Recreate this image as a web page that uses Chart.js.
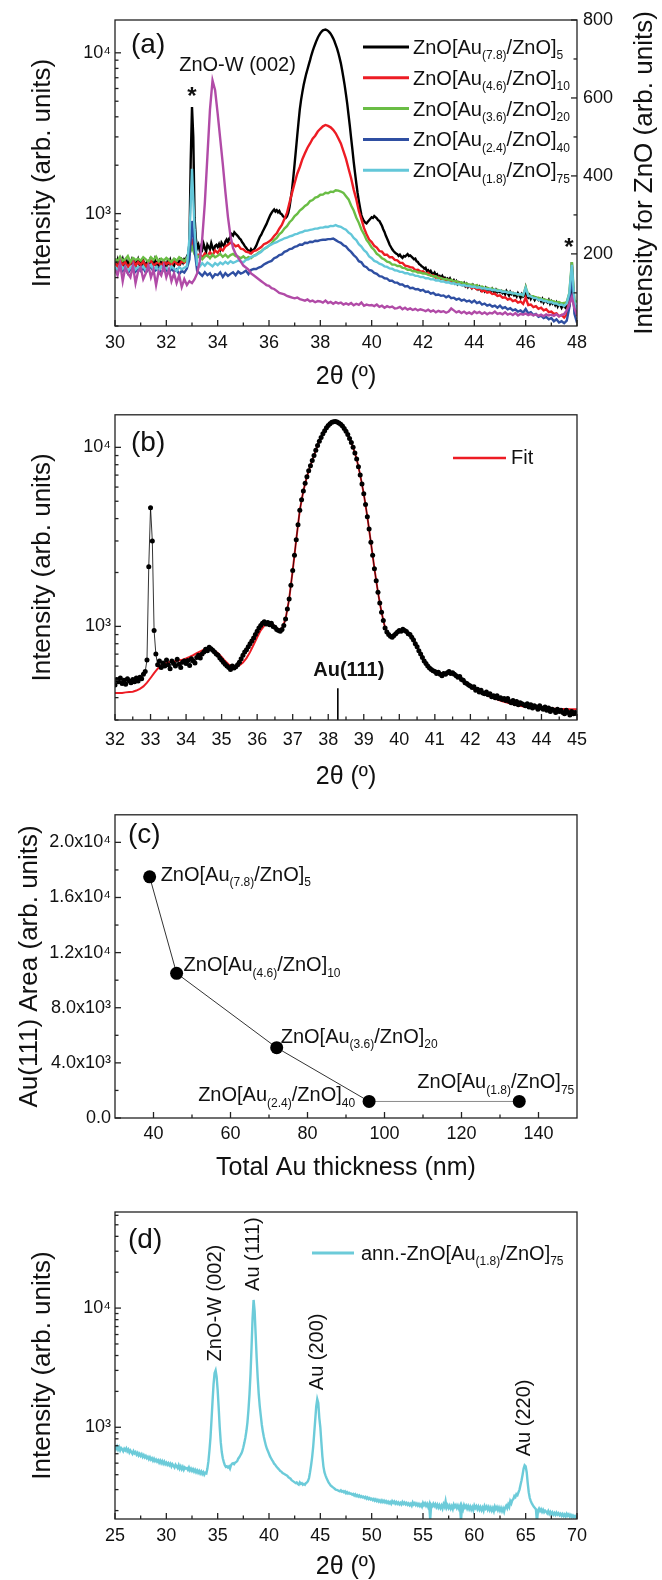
<!DOCTYPE html>
<html>
<head>
<meta charset="utf-8">
<script src="https://cdn.jsdelivr.net/npm/chart.js@4.4.1/dist/chart.umd.min.js"></script>
<style>
html, body { margin: 0; padding: 0; background: #fff; }
#wrap { position: relative; width: 662px; height: 1580px; overflow: hidden; background: #fff; }
#wrap canvas { position: absolute; left: 0; }
</style>
</head>
<body>
<div id="wrap">
  <canvas id="chartA" width="662" height="400" style="top:0px"></canvas>
  <canvas id="chartB" width="662" height="400" style="top:400px"></canvas>
  <canvas id="chartC" width="662" height="400" style="top:800px"></canvas>
  <canvas id="chartD" width="662" height="400" style="top:1180px"></canvas>
</div>
<script>
// ---- data ----

// (a) 2theta scans, 30-48 deg. ZnO[Au(7.8)/ZnO]5 is sampled every 0.05 deg, the others every 0.1 deg
const scanStartA = 30;
const stepFine = 0.05;
const stepA = 0.1;

const intensityAu78 = [
  500,485,515,470,505,490,520,480,495,510,   // 30.0
  475,500,490,515,480,505,470,495,520,485,   // 30.5
  500,480,510,490,470,505,495,515,480,500,   // 31.0
  490,520,485,500,475,510,495,480,505,490,   // 31.5
  470,505,490,515,480,500,475,510,495,485,   // 32.0
  505,490,515,495,520,510,540,560,650,2150,  // 32.5
  4600,3000,950,700,610,640,590,625,600,650, // 33.0
  610,580,640,620,600,655,615,590,630,640,   // 33.5
  620,645,605,660,640,625,670,690,665,700,   // 34.0
  720,745,730,765,750,735,720,700,690,665,   // 34.5
  650,630,615,600,590,575,600,585,595,610,   // 35.0
  630,660,690,720,740,770,800,830,860,900,   // 35.5
  940,980,1010,1040,1060,1030,1050,1020,1040,1000, // 36.0
  990,960,950,940,960,1010,1100,1250,1420,1700,    // 36.5
  2050,2500,3050,3700,4450,5100,5700,6300,6850,7400, // 37.0
  7900,8450,9000,9650,10250,10800,11350,11900,12400,12850, // 37.5
  13250,13550,13800,13900,13950,13850,13700,13450,13150,12750, // 38.0
  12300,11800,11200,10650,10000,9300,8600,7800,7000,6250, // 38.5
  5500,4800,4100,3500,2950,2500,2100,1800,1550,1350, // 39.0
  1200,1080,980,930,900,880,870,890,910,930, // 39.5
  950,940,965,950,935,910,900,870,840,800,   // 40.0
  770,730,700,670,640,620,600,585,575,565,   // 40.5
  560,545,555,540,530,545,540,550,560,545,   // 41.0
  550,540,530,520,525,505,500,485,480,470,   // 41.5
  465,455,460,440,445,430,440,425,420,430,   // 42.0
  415,420,405,410,400,410,395,400,390,395,   // 42.5
  385,395,380,375,385,370,380,365,375,370,   // 43.0
  365,360,370,355,365,350,360,355,345,360,   // 43.5
  350,345,355,340,350,335,345,340,330,345,   // 44.0
  335,340,330,325,340,330,320,335,325,330,   // 44.5
  325,330,320,325,315,330,320,310,325,315,   // 45.0
  320,310,315,305,320,310,300,315,305,310,   // 45.5
  340,305,300,310,295,305,300,290,300,295,   // 46.0
  290,295,285,295,280,290,285,280,290,275,   // 46.5
  285,275,280,270,280,265,275,270,260,270,   // 47.0
  265,260,270,255,265,300,500,300,260,265,   // 47.5
  260                                        // 48.0
];

const intensityAu46 = [
  495,470,510,480,500,465,490,515,475,500,   // 30
  480,505,470,495,510,475,490,500,470,505,   // 31
  485,500,475,510,490,480,505,495,520,560,   // 32
  680,600,545,560,530,565,545,575,550,590,   // 33
  570,605,590,625,640,660,650,625,635,605,   // 34
  600,580,575,565,585,590,605,620,645,655,   // 35
  670,690,725,755,805,850,925,1010,1170,1350, // 36
  1550,1770,1950,2180,2370,2570,2730,2920,3050,3240, // 37
  3370,3490,3560,3510,3440,3320,3160,2940,2730,2450, // 38
  2190,1900,1660,1410,1230,1040,925,815,745,690,     // 39
  665,630,615,585,580,555,555,535,535,515,   // 40
  512,495,494,475,472,465,462,445,448,436,   // 41
  438,425,428,412,414,400,404,392,394,384,   // 42
  388,376,380,366,372,360,362,352,356,344,   // 43
  350,338,342,328,334,322,326,316,318,308,   // 44
  310,300,302,292,296,286,290,280,284,274,   // 45
  300,270,272,262,266,256,260,250,254,244,   // 46
  246,238,240,230,234,226,236,300,470,270,   // 47
  230                                        // 48
];

const intensityAu36 = [
  525,505,540,510,520,545,500,530,515,525,   // 30
  510,535,520,500,535,515,540,505,525,510,   // 31
  530,515,500,525,510,535,520,505,530,560,   // 32
  620,560,530,548,520,542,552,528,556,535,   // 33
  546,562,538,556,534,552,562,544,540,528,   // 34
  542,524,536,528,546,556,572,584,602,614,   // 35
  632,652,684,706,744,766,808,836,884,916,   // 36
  964,996,1045,1076,1115,1142,1196,1214,1258,1272, // 37
  1310,1312,1348,1340,1370,1364,1398,1390,1372,1346, // 38
  1284,1226,1124,1046,946,876,796,746,686,654, // 39
  616,594,562,548,528,518,502,498,482,482,   // 40
  472,472,460,458,448,448,438,438,430,430,   // 41
  424,424,416,414,406,408,398,398,390,392,   // 42
  386,388,378,380,372,374,366,368,360,362,   // 43
  356,358,350,352,344,346,340,342,334,336,   // 44
  332,330,326,326,322,320,318,314,314,310,   // 45
  350,312,306,306,300,300,294,294,290,288,   // 46
  286,284,280,282,276,278,282,320,500,290,   // 47
  282                                        // 48
];

const intensityAu24 = [
  455,430,470,440,460,425,450,465,435,455,   // 30
  440,460,430,450,470,435,445,460,425,450,   // 31
  445,430,455,435,450,420,440,430,455,520,   // 32
  900,600,440,425,410,432,414,426,400,420,   // 33
  414,432,404,426,410,422,432,414,436,424,   // 34
  430,442,420,446,452,452,462,468,482,492,   // 35
  502,508,528,536,552,558,578,586,602,606,   // 36
  622,628,642,640,658,656,668,666,678,676,   // 37
  684,688,688,694,694,700,684,668,658,636,   // 38
  624,596,578,552,534,506,498,472,464,446,   // 39
  442,428,422,408,406,396,394,382,382,372,   // 40
  372,362,362,352,354,344,346,338,340,332,   // 41
  336,326,328,318,322,312,314,308,310,302,   // 42
  308,298,300,292,296,288,292,284,288,280,   // 43
  288,278,282,272,276,268,272,264,268,260,   // 44
  268,258,262,254,258,250,254,246,250,242,   // 45
  255,240,244,234,238,228,232,224,228,220,   // 46
  224,214,220,210,214,208,216,260,450,238,   // 47
  210                                        // 48
];

const intensityAu18 = [
  465,445,480,455,470,440,460,475,450,465,   // 30
  455,470,445,460,480,450,465,440,470,455,   // 31
  460,445,470,455,440,465,450,460,470,700,   // 32
  1900,800,480,468,492,474,496,484,470,492,  // 33
  478,496,484,502,488,506,494,502,512,504,   // 34
  498,516,520,536,544,552,566,578,602,618,   // 35
  632,644,656,664,678,688,702,708,722,728,   // 36
  742,748,762,768,782,784,792,798,806,808,   // 37
  818,818,828,826,838,836,848,834,828,808,   // 38
  794,762,744,706,684,646,624,592,574,542,   // 39
  528,508,502,488,482,470,466,456,454,444,   // 40
  442,434,434,426,426,418,418,410,410,403,   // 41
  404,396,397,390,391,384,385,378,379,373,   // 42
  374,368,369,363,364,358,360,354,356,350,   // 43
  352,346,348,342,344,338,340,334,336,330,   // 44
  332,326,328,322,324,318,320,314,316,310,   // 45
  345,308,306,298,298,290,292,286,286,280,   // 46
  282,276,276,270,272,266,276,320,480,280,   // 47
  250                                        // 48
];

// ZnO reference film, read on the right-hand axis
const intensityZnO = [
  160,145,175,130,165,150,140,170,125,155,   // 30
  165,135,150,170,140,160,120,155,145,170,   // 31
  140,160,130,150,125,145,115,135,120,130,   // 32
  125,135,150,180,240,330,450,570,645,620,   // 33
  560,495,430,360,295,245,215,200,190,180,   // 34
  170,165,160,150,145,140,135,130,125,120,   // 35
  118,112,110,105,100,98,96,92,90,88,        // 36
  86,88,84,82,80,83,78,80,76,79,             // 37
  78,75,80,74,77,72,76,73,75,70,             // 38
  73,70,74,68,72,69,75,67,70,68,             // 39
  69,66,70,64,67,62,66,63,65,60,             // 40
  61,64,58,62,57,60,56,59,55,58,             // 41
  56,53,57,52,55,50,54,51,53,49,             // 42
  52,60,55,50,53,48,52,47,50,46,             // 43
  52,48,51,46,50,45,49,47,52,46,             // 44
  48,45,50,44,47,43,48,42,46,44,             // 45
  47,43,46,42,45,41,44,40,45,42,             // 46
  44,41,45,40,43,46,55,70,90,60,             // 47
  44                                         // 48
];

const sampleAu = ['7.8', '4.6', '3.6', '2.4', '1.8'];
const samplePeriods = ['5', '10', '20', '40', '75'];
const sampleColors = ['#000000', '#ed1c24', '#6abd45', '#2f4fa2', '#63c7d9'];
const znoColor = '#b14ba7';

// (b) fit of the ZnO[Au(7.8)/ZnO]5 scan, 32-45 deg every 0.1 deg
const fitStart = 32;
const fitStep = 0.1;
const fitAu78 = [
  425,425,425,428,430,432,438,448,462,485,   // 32
  515,548,580,605,620,630,636,640,645,652,   // 33
  662,675,690,708,725,740,748,745,732,708,   // 34
  675,640,612,598,595,605,628,665,718,790,   // 35
  870,950,1010,1040,1045,1000,960,975,1100,1420, // 36
  2050,3050,4450,5700,6850,7900,9000,10250,11350,12400, // 37
  13250,13800,13950,13700,13150,12300,11200,10000,8600,7000, // 38
  5500,4100,2950,2100,1550,1200,980,900,870,910, // 39
  950,955,935,900,840,770,700,640,600,575,   // 40
  560,550,545,545,545,540,528,510,492,475,   // 41
  460,448,438,428,418,410,402,395,388,382,   // 42
  377,372,368,364,360,357,354,352,350,349,   // 43
  348,348,347,347,347,346,346,346,345,345,   // 44
  345                                        // 45
];
const au111Angle = 38.27;
const au111MarkRange = [300, 452];

// (c) Au(111) peak area against total Au thickness
const totalAuThickness = [39, 46, 72, 96, 135];
const au111Area = [17500, 10500, 5100, 1200, 1200];

// (d) annealed ZnO[Au(1.8)/ZnO]75, 25-70 deg every 0.1 deg
const scanStartD = 25;
const stepD = 0.1;
const intensityAnnealed = [
  700,660,690,650,680,640,670,655,630,660,   // 25
  640,665,630,650,615,640,620,600,630,605,   // 26
  620,590,610,580,600,575,595,565,585,560,   // 27
  575,550,565,540,560,535,550,525,545,520,   // 28
  535,515,530,505,525,500,520,495,515,490,   // 29
  505,485,500,480,495,470,490,475,460,485,   // 30
  470,455,480,450,470,445,465,440,460,450,   // 31
  455,440,460,435,450,430,445,425,440,420,   // 32
  435,415,430,410,425,405,420,400,415,410,   // 33
  450,520,640,820,1150,1650,2300,2850,3000,2650, // 34
  2050,1450,1000,750,620,550,510,480,465,470,    // 35
  460,470,450,480,495,500,490,505,510,520,   // 36
  545,560,580,600,630,680,740,820,930,1100,  // 37
  1400,1900,2800,4700,8200,11700,9500,6000,3800,2600, // 38
  1900,1500,1250,1050,920,830,760,700,660,630, // 39
  600,570,550,530,515,495,485,470,460,450,   // 40
  440,430,425,415,410,405,400,395,390,380,   // 41
  375,370,360,355,350,345,340,345,335,330,   // 42
  345,335,340,330,335,330,340,345,355,375,   // 43
  420,480,560,680,880,1150,1500,1720,1600,1200, // 44
  1000,750,570,470,420,395,375,360,345,335,  // 45
  325,320,315,310,305,300,298,296,293,290,   // 46
  296,288,292,285,290,280,286,278,282,276,   // 47
  278,272,276,268,274,265,270,262,268,260,   // 48
  264,258,262,255,260,252,258,250,255,248,   // 49
  252,245,250,242,248,240,246,238,244,236,   // 50
  244,236,242,234,240,232,238,230,236,228,   // 51
  240,232,238,229,236,228,234,226,232,225,   // 52
  236,228,234,226,232,224,230,222,228,220,   // 53
  234,225,231,222,229,220,227,218,225,216,   // 54
  232,222,230,219,228,215,226,168,224,218,   // 55
  228,218,226,214,224,212,222,210,220,208,   // 56
  226,216,240,212,222,210,220,208,218,206,   // 57
  224,214,222,210,220,208,218,165,216,204,   // 58
  222,212,220,208,218,206,216,204,214,202,   // 59
  220,210,218,206,216,204,214,202,212,200,   // 60
  218,208,216,204,214,202,212,200,210,198,   // 61
  216,206,214,202,212,200,210,198,208,196,   // 62
  212,220,210,225,215,240,230,245,250,265,   // 63
  260,275,270,285,300,330,360,400,450,480,   // 64
  470,420,340,285,255,240,230,222,215,210,   // 65
  205,160,200,208,198,205,195,203,194,200,   // 66
  196,190,198,188,195,186,193,185,191,184,   // 67
  192,185,190,183,188,181,187,180,186,179,   // 68
  188,181,186,178,184,177,182,176,180,175,   // 69
  180                                        // 70
];
const annealedColor = '#6ccbd9';
const peakAngles = [34.8, 38.5, 44.7, 64.9];
const peakHeights = [3000, 11700, 1720, 480];
const peakNames = ['ZnO-W (002)', 'Au (111)', 'Au (200)', 'Au (220)'];

// ticks
const ticksAX = { major: [30, 32, 34, 36, 38, 40, 42, 44, 46, 48], labels: ['30', '32', '34', '36', '38', '40', '42', '44', '46', '48'], minor: [31, 33, 35, 37, 39, 41, 43, 45, 47] };
const ticksAY = { major: [1000, 10000], labels: ['10³', '10⁴'], minor: [200, 300, 400, 500, 600, 700, 800, 900, 2000, 3000, 4000, 5000, 6000, 7000, 8000, 9000] };
const ticksAY2 = { major: [200, 400, 600, 800], labels: ['200', '400', '600', '800'], minor: [100, 300, 500, 700] };
const ticksBX = { major: [32, 33, 34, 35, 36, 37, 38, 39, 40, 41, 42, 43, 44, 45], labels: ['32', '33', '34', '35', '36', '37', '38', '39', '40', '41', '42', '43', '44', '45'], minor: [32.5, 33.5, 34.5, 35.5, 36.5, 37.5, 38.5, 39.5, 40.5, 41.5, 42.5, 43.5, 44.5] };
const ticksBY = { major: [1000, 10000], labels: ['10³', '10⁴'], minor: [300, 400, 500, 600, 700, 800, 900, 2000, 3000, 4000, 5000, 6000, 7000, 8000, 9000] };
const ticksCX = { major: [40, 60, 80, 100, 120, 140], labels: ['40', '60', '80', '100', '120', '140'], minor: [50, 70, 90, 110, 130] };
const ticksCY = { major: [0, 4000, 8000, 12000, 16000, 20000], labels: ['0.0', '4.0x10³', '8.0x10³', '1.2x10⁴', '1.6x10⁴', '2.0x10⁴'], minor: [2000, 6000, 10000, 14000, 18000] };
const ticksDX = { major: [25, 30, 35, 40, 45, 50, 55, 60, 65, 70], labels: ['25', '30', '35', '40', '45', '50', '55', '60', '65', '70'], minor: [27.5, 32.5, 37.5, 42.5, 47.5, 52.5, 57.5, 62.5, 67.5] };
const ticksDY = { major: [1000, 10000], labels: ['10³', '10⁴'], minor: [200, 300, 400, 500, 600, 700, 800, 900, 2000, 3000, 4000, 5000, 6000, 7000, 8000, 9000, 20000, 30000, 40000, 50000, 60000] };

// ---- helpers ----
const FONT = '"Liberation Sans", Arial, Helvetica, sans-serif';
Chart.defaults.font.family = FONT;
Chart.defaults.color = '#111';

function font(size, bold) {
    return (bold ? 'bold ' : '') + size + 'px ' + FONT;
}

function toPoints(start, step, values) {
    return values.map((v, i) => ({ x: Math.round((start + i * step) * 100) / 100, y: v }));
}

function sampleParts(au, n, prefix) {
    return [[(prefix || '') + 'ZnO[Au', false], ['(' + au + ')', true], ['/ZnO]', false], [n, true]];
}

// text with subscripts, y is the baseline
function drawRich(ctx, parts, x, y, size, align) {
    const subSize = Math.round(size * 0.62);
    let total = 0;
    const widths = parts.map(p => {
        ctx.font = font(p[1] ? subSize : size);
        const w = ctx.measureText(p[0]).width;
        total += w;
        return w;
    });
    let cx = align === 'right' ? x - total : (align === 'center' ? x - total / 2 : x);
    ctx.textAlign = 'left';
    ctx.textBaseline = 'alphabetic';
    parts.forEach((p, i) => {
        ctx.font = font(p[1] ? subSize : size);
        ctx.fillText(p[0], cx, p[1] ? y + size * 0.27 : y);
        cx += widths[i];
    });
}

function vText(ctx, text, x, y, size, align, bold) {
    ctx.save();
    ctx.translate(x, y);
    ctx.rotate(-Math.PI / 2);
    ctx.font = font(size, bold);
    ctx.textAlign = align || 'center';
    ctx.textBaseline = 'middle';
    ctx.fillText(text, 0, 0);
    ctx.restore();
}

function axis(spec, opts, padding) {
    const all = spec.major.concat(spec.minor).sort((p, q) => p - q);
    return Object.assign({
        grid: { display: false, drawTicks: false },
        border: { display: false },
        afterBuildTicks: sc => { sc.ticks = all.map(v => ({ value: v })); },
        ticks: {
            autoSkip: false, maxRotation: 0, minRotation: 0, padding: padding,
            font: { size: 18 }, color: '#111',
            callback: v => { const i = spec.major.indexOf(v); return i >= 0 ? spec.labels[i] : ''; }
        }
    }, opts);
}

// frame, inward tick marks, axis titles and panel texts
function decorPlugin(cfg) {
    return {
        id: 'decor',
        afterDraw(chart) {
            const ctx = chart.ctx;
            const area = chart.chartArea;
            ctx.save();
            ctx.strokeStyle = '#222';
            ctx.lineWidth = 1.3;
            cfg.tickScales.forEach(id => {
                const sc = chart.scales[id];
                sc.ticks.forEach(t => {
                    const len = t.label ? 6 : 3.5;
                    const p = sc.getPixelForValue(t.value);
                    ctx.beginPath();
                    if (sc.axis === 'x') { ctx.moveTo(p, area.bottom); ctx.lineTo(p, area.bottom - len); }
                    else if (sc.position === 'left') { ctx.moveTo(area.left, p); ctx.lineTo(area.left + len, p); }
                    else { ctx.moveTo(area.right, p); ctx.lineTo(area.right - len, p); }
                    ctx.stroke();
                });
            });
            ctx.strokeRect(area.left, area.top, area.right - area.left, area.bottom - area.top);

            ctx.fillStyle = '#111';
            ctx.font = font(25);
            ctx.textAlign = 'center';
            ctx.textBaseline = 'middle';
            ctx.fillText(cfg.xTitle, (area.left + area.right) / 2, cfg.xTitleY);
            vText(ctx, cfg.yTitle, cfg.yTitleX, (area.top + area.bottom) / 2, 26);
            if (cfg.y2Title) vText(ctx, cfg.y2Title, cfg.y2TitleX, (area.top + area.bottom) / 2, 26);

            ctx.font = font(28);
            ctx.textAlign = 'left';
            ctx.textBaseline = 'middle';
            ctx.fillText(cfg.panel, cfg.panelX, cfg.panelY);

            if (cfg.extra) cfg.extra(chart, ctx, area);
            ctx.restore();
        }
    };
}

const baseOptions = {
    responsive: false,
    animation: false,
    devicePixelRatio: 1,
    events: [],
    elements: { point: { radius: 0 }, line: { borderWidth: 2.4, tension: 0 } },
    plugins: { legend: { display: false }, tooltip: { enabled: false } }
};

// ---- (a) ----
const datasetsA = [
    { data: toPoints(scanStartA, stepFine, intensityAu78), borderColor: sampleColors[0], order: 5, yAxisID: 'y' },
    { data: toPoints(scanStartA, stepA, intensityAu46), borderColor: sampleColors[1], order: 4, yAxisID: 'y' },
    { data: toPoints(scanStartA, stepA, intensityAu36), borderColor: sampleColors[2], order: 3, yAxisID: 'y' },
    { data: toPoints(scanStartA, stepA, intensityAu24), borderColor: sampleColors[3], order: 2, yAxisID: 'y' },
    { data: toPoints(scanStartA, stepA, intensityAu18), borderColor: sampleColors[4], order: 1, yAxisID: 'y' },
    { data: toPoints(scanStartA, stepA, intensityZnO), borderColor: znoColor, order: 0, yAxisID: 'y2' }
];

new Chart(document.getElementById('chartA'), {
    type: 'line',
    data: { datasets: datasetsA },
    options: Object.assign({}, baseOptions, {
        layout: { padding: { top: 20, left: 0, right: 0, bottom: 0 } },
        scales: {
            x: axis(ticksAX, { type: 'linear', min: 30, max: 48, position: 'bottom', afterFit: s => { s.height = 74; } }, 6),
            y: axis(ticksAY, { type: 'logarithmic', min: 200, max: 16000, position: 'left', afterFit: s => { s.width = 115; } }, 4),
            y2: axis(ticksAY2, { type: 'linear', min: 15, max: 800, position: 'right', afterFit: s => { s.width = 85; } }, 6)
        }
    }),
    plugins: [decorPlugin({
        tickScales: ['x', 'y', 'y2'],
        xTitle: '2θ (º)', xTitleY: 377,
        yTitle: 'Intensity (arb. units)', yTitleX: 43,
        y2Title: 'Intensity for ZnO (arb. units)', y2TitleX: 645,
        panel: '(a)', panelX: 131, panelY: 45,
        extra(chart, ctx) {
            // legend
            sampleAu.forEach((au, i) => {
                const yc = 47 + i * 30.8;
                ctx.strokeStyle = sampleColors[i];
                ctx.lineWidth = 3;
                ctx.beginPath(); ctx.moveTo(363, yc); ctx.lineTo(409, yc); ctx.stroke();
                ctx.fillStyle = '#111';
                drawRich(ctx, sampleParts(au, samplePeriods[i]), 413, yc + 7, 20, 'left');
            });
            const sx = chart.scales.x, sy = chart.scales.y, sy2 = chart.scales.y2;
            // ZnO-W (002) over the reference peak
            const iz = intensityZnO.indexOf(Math.max(...intensityZnO));
            const zx = sx.getPixelForValue(scanStartA + iz * stepA);
            const zy = sy2.getPixelForValue(intensityZnO[iz]);
            ctx.fillStyle = '#111';
            ctx.font = font(20);
            ctx.textAlign = 'center';
            ctx.textBaseline = 'middle';
            ctx.fillText('ZnO-W (002)', zx + 25, zy - 15);
            // substrate peaks
            ctx.font = font(24, true);
            ctx.textBaseline = 'alphabetic';
            const i1 = Math.round((33 - scanStartA) / stepFine);
            const i2 = Math.round((47.8 - scanStartA) / stepFine);
            ctx.fillText('*', sx.getPixelForValue(33), sy.getPixelForValue(intensityAu78[i1]) - 3);
            ctx.fillText('*', sx.getPixelForValue(47.8) - 3, sy.getPixelForValue(intensityAu78[i2]) - 7);
        }
    })]
});

// ---- (b) ----
new Chart(document.getElementById('chartB'), {
    type: 'line',
    data: {
        datasets: [
            { data: toPoints(scanStartA, stepFine, intensityAu78), borderColor: '#000', borderWidth: 0.8, pointRadius: 2.5, pointBackgroundColor: '#000', pointBorderWidth: 0, order: 0 },
            { data: toPoints(fitStart, fitStep, fitAu78), borderColor: '#ed1c24', borderWidth: 2, order: 1 },
            { data: au111MarkRange.map(v => ({ x: au111Angle, y: v })), borderColor: '#000', borderWidth: 1.6, order: 2 }
        ]
    },
    options: Object.assign({}, baseOptions, {
        layout: { padding: { top: 12, left: 0, right: 85, bottom: 0 } },
        scales: {
            x: axis(ticksBX, { type: 'linear', min: 32, max: 45, position: 'bottom', afterFit: s => { s.height = 80; } }, 9),
            y: axis(ticksBY, { type: 'logarithmic', min: 300, max: 15200, position: 'left', afterFit: s => { s.width = 115; } }, 4)
        }
    }),
    plugins: [decorPlugin({
        tickScales: ['x', 'y'],
        xTitle: '2θ (º)', xTitleY: 377,
        yTitle: 'Intensity (arb. units)', yTitleX: 43,
        panel: '(b)', panelX: 131, panelY: 43,
        extra(chart, ctx) {
            ctx.strokeStyle = '#ed1c24';
            ctx.lineWidth = 2.5;
            ctx.beginPath(); ctx.moveTo(453, 58); ctx.lineTo(506, 58); ctx.stroke();
            ctx.fillStyle = '#111';
            ctx.font = font(20);
            ctx.textAlign = 'left';
            ctx.textBaseline = 'middle';
            ctx.fillText('Fit', 511, 58);
            const mx = chart.scales.x.getPixelForValue(au111Angle);
            const my = chart.scales.y.getPixelForValue(au111MarkRange[1]);
            ctx.font = font(20, true);
            ctx.textAlign = 'center';
            ctx.fillText('Au(111)', mx + 11, my - 18);
        }
    })]
});

// ---- (c) ----
const labelOffsetsC = [
    { dx: 11, dy: -3, align: 'left' },
    { dx: 7, dy: -9, align: 'left' },
    { dx: 4, dy: -12, align: 'left' },
    { dx: -14, dy: -7, align: 'right' },
    { dx: 55, dy: -20, align: 'right' }
];

new Chart(document.getElementById('chartC'), {
    type: 'line',
    data: {
        datasets: [{
            data: totalAuThickness.map((t, i) => ({ x: t, y: au111Area[i] })),
            borderColor: '#333',
            borderWidth: 1,
            segment: { borderColor: c => (c.p0DataIndex === 3 ? '#8a8a8a' : '#333') },
            pointRadius: 6.5,
            pointBackgroundColor: '#000',
            pointBorderWidth: 0
        }]
    },
    options: Object.assign({}, baseOptions, {
        layout: { padding: { top: 10, left: 0, right: 85, bottom: 0 } },
        scales: {
            x: axis(ticksCX, { type: 'linear', min: 30, max: 150, position: 'bottom', afterFit: s => { s.height = 82; } }, 5),
            y: axis(ticksCY, { type: 'linear', min: 0, max: 22000, position: 'left', afterFit: s => { s.width = 115; } }, 4)
        }
    }),
    plugins: [decorPlugin({
        tickScales: ['x', 'y'],
        xTitle: 'Total Au thickness (nm)', xTitleY: 368,
        yTitle: 'Au(111) Area (arb. units)', yTitleX: 30,
        panel: '(c)', panelX: 128, panelY: 35,
        extra(chart, ctx) {
            const pts = chart.getDatasetMeta(0).data;
            ctx.fillStyle = '#111';
            pts.forEach((p, i) => {
                const o = labelOffsetsC[i];
                drawRich(ctx, sampleParts(sampleAu[i], samplePeriods[i]), p.x + o.dx, p.y + o.dy + 7, 20, o.align);
            });
        }
    })]
});

// ---- (d) ----
new Chart(document.getElementById('chartD'), {
    type: 'line',
    data: {
        datasets: [{ data: toPoints(scanStartD, stepD, intensityAnnealed), borderColor: annealedColor, borderWidth: 2.4 }]
    },
    options: Object.assign({}, baseOptions, {
        layout: { padding: { top: 32, left: 0, right: 85, bottom: 0 } },
        scales: {
            x: axis(ticksDX, { type: 'linear', min: 25, max: 70, position: 'bottom', afterFit: s => { s.height = 61; } }, 6),
            y: axis(ticksDY, { type: 'logarithmic', min: 170, max: 64000, position: 'left', afterFit: s => { s.width = 115; } }, 4)
        }
    }),
    plugins: [decorPlugin({
        tickScales: ['x', 'y'],
        xTitle: '2θ (º)', xTitleY: 387,
        yTitle: 'Intensity (arb. units)', yTitleX: 43,
        panel: '(d)', panelX: 128, panelY: 60,
        extra(chart, ctx) {
            ctx.strokeStyle = annealedColor;
            ctx.lineWidth = 3;
            ctx.beginPath(); ctx.moveTo(312, 73); ctx.lineTo(354, 73); ctx.stroke();
            ctx.fillStyle = '#111';
            drawRich(ctx, sampleParts('1.8', '75', 'ann.-'), 361, 80, 20, 'left');
            const sx = chart.scales.x, sy = chart.scales.y;
            peakAngles.forEach((a, i) => {
                vText(ctx, peakNames[i], sx.getPixelForValue(a), sy.getPixelForValue(peakHeights[i]) - 9, 20, 'left');
            });
        }
    })]
});
</script>
</body>
</html>
